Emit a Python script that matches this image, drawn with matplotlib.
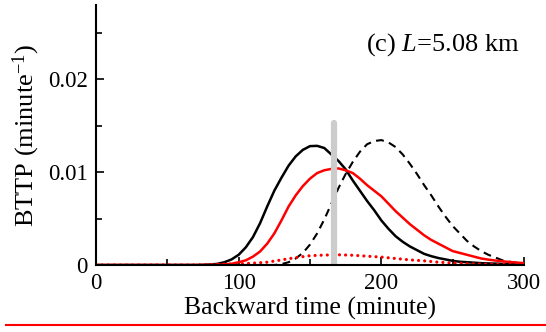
import matplotlib.pyplot as plt
from matplotlib.ticker import MultipleLocator

plt.rcParams['font.family'] = ['Liberation Serif', 'DejaVu Serif']
plt.rcParams['mathtext.fontset'] = 'custom'
plt.rcParams['mathtext.rm'] = 'Liberation Serif'
plt.rcParams['mathtext.it'] = 'Liberation Serif:italic'

# backward time (minute), 5-minute steps
t = list(range(0, 305, 5))

black_solid = [0] * 15 + [
    0.00002, 0.00005, 0.00012, 0.0003, 0.0006, 0.0011, 0.0019, 0.0030, 0.0045,
    0.0063, 0.0080, 0.0094, 0.0107, 0.0117, 0.0124, 0.0128, 0.01283, 0.0126,
    0.0119, 0.0112, 0.0103, 0.0091, 0.0080, 0.0069, 0.0059, 0.0048, 0.0039,
    0.0031, 0.0025, 0.0020, 0.0016, 0.0012, 0.00095, 0.00075, 0.0006, 0.00045,
    0.00035, 0.0003, 0.00025, 0.0002, 0.00017, 0.00015, 0.00012, 0.0001,
    0.0001, 0.0001]
red_solid = [0] * 17 + [
    0.00003, 0.00006, 0.00013, 0.0003, 0.0005, 0.0009, 0.00145, 0.0023, 0.0034,
    0.0048, 0.0063, 0.0075, 0.0085, 0.0093, 0.0099, 0.0102, 0.01035, 0.0104,
    0.0102, 0.0099, 0.0093, 0.0086, 0.0080, 0.0074, 0.0066, 0.0058, 0.0051,
    0.0044, 0.0038, 0.0032, 0.0027, 0.0023, 0.0019, 0.0015, 0.0013, 0.0011,
    0.0009, 0.0007, 0.00058, 0.00048, 0.0004, 0.00032, 0.00026, 0.0002]
black_dashed = [0] * 26 + [
    0.0001, 0.0003, 0.0007, 0.0013, 0.0022, 0.0034, 0.0049, 0.0066, 0.0083,
    0.0098, 0.0111, 0.0122, 0.0130, 0.01335, 0.01345, 0.0132, 0.0127, 0.0119,
    0.0109, 0.0098, 0.0086, 0.0075, 0.0063, 0.0052, 0.0042, 0.0034, 0.0026,
    0.0020, 0.0015, 0.0011, 0.0008, 0.0005, 0.00035, 0.00025, 0.00018]

# dotted curve, 10-minute steps
t_dot = list(range(0, 310, 10))
red_dotted = [0] * 8 + [
    0.00005, 0.0001, 0.00012, 0.0002, 0.0003, 0.00055, 0.0008, 0.001, 0.00107,
    0.0011, 0.00105, 0.00095, 0.00085, 0.0007, 0.00055, 0.00045, 0.0003,
    0.00022, 0.00015, 0.0001, 0.00008, 0.00005, 0.00003]

t_mark = 166.8
mark_top = 0.0153

fig = plt.figure(figsize=(5.46, 3.32), dpi=100)
ax = fig.add_axes([0.1758, 0.2018, 0.7839, 0.7832])

ax.plot(t, black_solid, color='black', lw=1.8)
ax.plot(t, black_dashed, color='black', lw=1.5, ls=(0, (3.8, 2.6)))
ax.plot(t, red_solid, color='red', lw=1.8)
ax.plot(t_dot, red_dotted, color='red', lw=2.3, ls=(0, (0.01, 1.9)),
        dash_capstyle='round')
ax.plot([t_mark, t_mark], [0, mark_top], color='#cccccc', lw=4.5,
        solid_capstyle='round')

ax.set_xlim(0, 300)
ax.set_ylim(0, 0.028)
ax.xaxis.set_major_locator(MultipleLocator(100))
ax.xaxis.set_minor_locator(MultipleLocator(50))
ax.yaxis.set_major_locator(MultipleLocator(0.01))
ax.yaxis.set_minor_locator(MultipleLocator(0.005))
ax.xaxis.set_major_formatter(plt.FuncFormatter(lambda v, p: '%d' % v))
ax.yaxis.set_major_formatter(plt.FuncFormatter(lambda v, p: '0' if v == 0 else '%.2f' % v))

for s in ['top', 'right']:
    ax.spines[s].set_visible(False)
for s in ['left', 'bottom']:
    ax.spines[s].set_linewidth(1.5)
ax.tick_params(which='both', direction='in', labelsize=16.5, width=1.2, pad=6)
ax.tick_params(which='major', length=6)
ax.tick_params(which='minor', length=4)

ax.set_xlabel('Backward time (minute)', fontsize=18.5, labelpad=2)
ax.set_ylabel('BTTP (minute$^{-1}$)', fontsize=19, labelpad=4)
ax.text(189, 0.0237, '(c) $L$=5.08 km', fontsize=19, va='center')

fig.add_artist(plt.Line2D([0.011, 1.0], [0.021, 0.021], color='red', lw=1.5,
                          transform=fig.transFigure))

fig.savefig('out.png', dpi=100)
